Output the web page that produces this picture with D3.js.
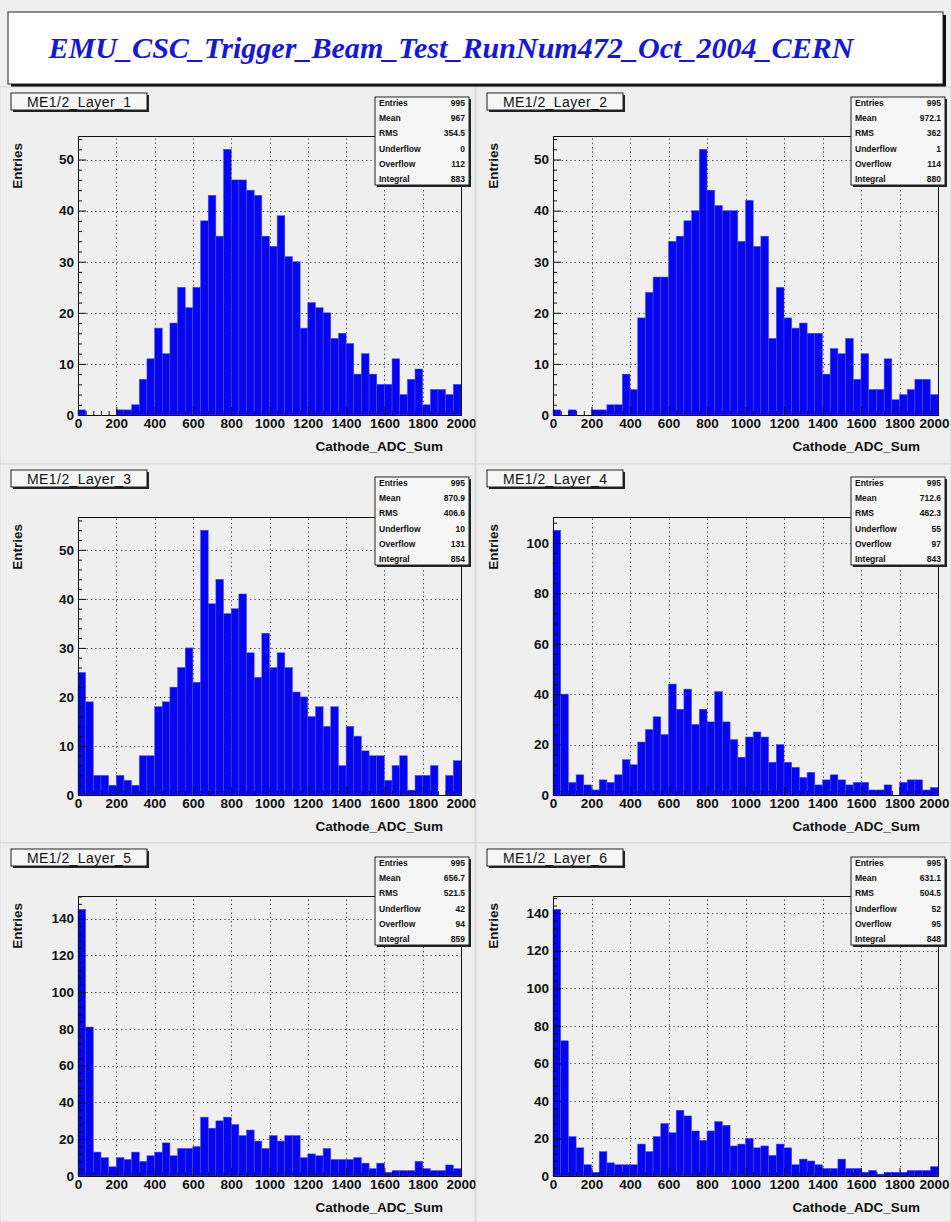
<!DOCTYPE html>
<html><head><meta charset="utf-8">
<script src="https://cdn.jsdelivr.net/npm/d3@7"></script>
<style>body{margin:0;background:#efefef;} svg{display:block;}</style>
</head><body>
<script>
// ---------- DATA ----------
const binEdges = [0,40,80,120,160,200,240,280,320,360,400,440,480,520,560,600,640,680,720,760,
  800,840,880,920,960,1000,1040,1080,1120,1160,1200,1240,1280,1320,1360,1400,1440,1480,1520,1560,
  1600,1640,1680,1720,1760,1800,1840,1880,1920,1960];
const binWidth = 40;
const layer1 = [1,0,0,0,0,1,1,2,7,11,17,12,18,25,21,25,38,43,35,52,46,46,44,43,35,33,39,31,30,17,22,21,20,15,16,14,8,12,8,6,6,11,4,7,9,2,5,5,4,6];
const layer2 = [1,0,1,0,0,1,1,2,2,8,5,19,24,27,27,34,35,38,40,52,44,41,40,40,34,42,33,35,15,25,19,17,18,16,16,8,13,12,15,7,12,5,5,11,3,4,5,7,7,4];
const layer3 = [25,19,4,4,2,4,3,2,8,8,18,19,22,26,30,23,54,39,44,37,38,41,29,24,33,26,29,26,21,20,16,18,14,18,6,14,12,9,8,8,3,6,8,1,4,4,6,0,4,7];
const layer4 = [105,40,5,8,4,2,6,5,8,14,12,21,26,31,24,44,34,42,28,34,29,41,29,22,15,23,25,23,13,20,13,11,7,9,4,6,8,6,4,5,5,2,2,4,0,5,6,6,2,3];
const layer5 = [145,81,13,10,5,10,9,13,8,11,13,18,11,15,15,16,32,26,30,32,28,22,25,19,15,22,19,22,22,10,12,11,15,9,9,9,10,7,4,7,2,3,3,3,8,4,3,3,6,4];
const layer6 = [142,72,21,15,6,2,13,7,6,6,6,17,13,21,28,23,35,32,24,19,24,29,27,16,17,20,15,16,11,17,15,6,9,8,6,4,4,9,4,4,2,3,1,2,2,2,3,3,3,5];
const panelNames = ["ME1/2_Layer_1","ME1/2_Layer_2","ME1/2_Layer_3","ME1/2_Layer_4","ME1/2_Layer_5","ME1/2_Layer_6"];
const statLabels = ["Entries","Mean","RMS","Underflow","Overflow","Integral"];
const stats1 = ["995","967","354.5","0","112","883"];
const stats2 = ["995","972.1","362","1","114","880"];
const stats3 = ["995","870.9","406.6","10","131","854"];
const stats4 = ["995","712.6","462.3","55","97","843"];
const stats5 = ["995","656.7","521.5","42","94","859"];
const stats6 = ["995","631.1","504.5","52","95","848"];
const xTicks = [0,200,400,600,800,1000,1200,1400,1600,1800,2000];
const yTicksA = [0,10,20,30,40,50];
const yTicksB = [0,20,40,60,80,100];
const yTicksC = [0,20,40,60,80,100,120,140];
const titleText = "EMU_CSC_Trigger_Beam_Test_RunNum472_Oct_2004_CERN";
const xTitle = "Cathode_ADC_Sum";
const yTitle = "Entries";

const series = [layer1,layer2,layer3,layer4,layer5,layer6];
const statsAll = [stats1,stats2,stats3,stats4,stats5,stats6];
const yTicksAll = [yTicksA,yTicksA,yTicksA,yTicksB,yTicksC,yTicksC];
const yMinorStep = [2,2,2,4,4,4];

// ---------- LAYOUT ----------
const W = 951, H = 1222;
const cols = [{x0:0,w:475,left:78,right:461},{x0:476,w:475,left:553,right:938}];
const rows = [{y0:87,h:377,top:136,bottom:415,statTop:97},
              {y0:464,h:379,top:517,bottom:795,statTop:477},
              {y0:843,h:379,top:896,bottom:1176,statTop:857}];
const FONT = "'Liberation Sans', Arial, Helvetica, sans-serif";

const svg = d3.select("body").append("svg").attr("width", W).attr("height", H);
svg.append("rect").attr("width", W).attr("height", H).attr("fill", "#efefef");

// Title box
svg.append("rect").attr("x", 11).attr("y", 15).attr("width", 935).attr("height", 72).attr("fill", "#111");
svg.append("rect").attr("x", 8).attr("y", 12).attr("width", 935).attr("height", 72)
  .attr("fill", "#fff").attr("stroke", "#222").attr("stroke-width", 1);
svg.append("text").attr("x", 451).attr("y", 58).attr("text-anchor", "middle")
  .attr("font-family", "'Liberation Serif', 'Times New Roman', serif")
  .attr("font-style", "italic").attr("font-weight", "bold").attr("font-size", 30)
  .attr("fill", "#1717d6").attr("textLength", 805).attr("lengthAdjust", "spacingAndGlyphs")
  .text(titleText);

series.forEach((vals, i) => {
  const c = cols[i % 2], r = rows[Math.floor(i / 2)];
  const g = svg.append("g");
  // pad
  g.append("rect").attr("x", c.x0).attr("y", r.y0).attr("width", c.w).attr("height", r.h)
    .attr("fill", "#efefef").attr("stroke", "#d6d6d6").attr("stroke-width", 1);

  const yMax = d3.max(vals) * 1.05;
  const x = d3.scaleLinear().domain([0, 2000]).range([c.left, c.right]);
  const y = d3.scaleLinear().domain([0, yMax]).range([r.bottom, r.top]);
  const yt = yTicksAll[i];

  // grid
  const grid = g.append("g").attr("stroke", "#444").attr("stroke-width", 1)
    .attr("stroke-dasharray", "1.3,3");
  grid.selectAll("line.v").data(xTicks.slice(1, -1)).join("line")
    .attr("x1", d => Math.round(x(d)) + 0.5).attr("x2", d => Math.round(x(d)) + 0.5)
    .attr("y1", r.bottom).attr("y2", r.top);
  grid.selectAll("line.h").data(yt.slice(1)).join("line")
    .attr("y1", d => Math.round(y(d)) + 0.5).attr("y2", d => Math.round(y(d)) + 0.5)
    .attr("x1", c.left).attr("x2", c.right);

  // bars
  g.append("g").selectAll("rect").data(vals.map((v, k) => ({e: binEdges[k], v}))).join("rect")
    .attr("x", d => x(d.e)).attr("width", d => x(d.e + binWidth) - x(d.e))
    .attr("y", d => y(d.v)).attr("height", d => r.bottom - y(d.v))
    .attr("fill", "#0505ee").attr("stroke", "#4d4dff").attr("stroke-width", 0.5);

  // frame
  g.append("rect").attr("x", c.left + 0.5).attr("y", r.top + 0.5)
    .attr("width", c.right - c.left).attr("height", r.bottom - r.top)
    .attr("fill", "none").attr("stroke", "#111").attr("stroke-width", 1);

  // x axis
  const xMinor = d3.range(0, 2001, 40).filter(v => !xTicks.includes(v));
  const xa = g.append("g").attr("transform", `translate(0,${r.bottom})`)
    .call(d3.axisBottom(x).tickValues(xTicks).tickFormat(d3.format("d"))
      .tickSizeInner(-8).tickSizeOuter(0).tickPadding(3));
  g.append("g").attr("transform", `translate(0,${r.bottom})`)
    .call(d3.axisBottom(x).tickValues(xMinor).tickFormat("").tickSizeInner(-4).tickSizeOuter(0))
    .call(s => s.select(".domain").remove());
  xa.select(".domain").remove();
  xa.selectAll("text").attr("font-family", FONT).attr("font-weight", "bold")
    .attr("font-size", 13.5).attr("fill", "#111");
  if (i % 2 === 1) {
    // keep the last label inside the page edge
    xa.selectAll("text").filter(d => d === 2000).attr("dx", -4);
  }

  // y axis
  const step = yMinorStep[i];
  const yMinor = d3.range(0, yMax, step).filter(v => !yt.includes(v));
  const ya = g.append("g").attr("transform", `translate(${c.left},0)`)
    .call(d3.axisLeft(y).tickValues(yt).tickFormat(d3.format("d"))
      .tickSizeInner(-8).tickSizeOuter(0).tickPadding(4));
  g.append("g").attr("transform", `translate(${c.left},0)`)
    .call(d3.axisLeft(y).tickValues(yMinor).tickFormat("").tickSizeInner(-4).tickSizeOuter(0))
    .call(s => s.select(".domain").remove());
  ya.select(".domain").remove();
  ya.selectAll("text").attr("font-family", FONT).attr("font-weight", "bold")
    .attr("font-size", 13.5).attr("fill", "#111");
  g.selectAll(".tick line").attr("stroke", "#111");

  // axis titles
  g.append("text").attr("x", c.right - 18).attr("y", r.bottom + 36).attr("text-anchor", "end")
    .attr("font-family", FONT).attr("font-weight", "bold").attr("font-size", 13.5).attr("fill", "#111")
    .text(xTitle);
  g.append("text").attr("transform", `translate(${c.x0 + 22},${r.top + 7}) rotate(-90)`)
    .attr("text-anchor", "end")
    .attr("font-family", FONT).attr("font-weight", "bold").attr("font-size", 13.5).attr("fill", "#111")
    .text(yTitle);

  // label box
  const lx = c.x0 + 11, ly = r.y0 + 6;
  g.append("rect").attr("x", lx + 2).attr("y", ly + 2).attr("width", 136).attr("height", 17).attr("fill", "#222");
  g.append("rect").attr("x", lx).attr("y", ly).attr("width", 136).attr("height", 17)
    .attr("fill", "#f6f6f6").attr("stroke", "#222").attr("stroke-width", 1);
  g.append("text").attr("x", lx + 68).attr("y", ly + 13.5).attr("text-anchor", "middle")
    .attr("font-family", FONT).attr("font-size", 14).attr("fill", "#111")
    .attr("textLength", 104).attr("lengthAdjust", "spacing")
    .text(panelNames[i]);

  // stats box
  const sx = c.x0 + 375, sy = r.statTop, sw = 94, sh = 88;
  g.append("rect").attr("x", sx + 2).attr("y", sy + 2).attr("width", sw).attr("height", sh).attr("fill", "#222");
  g.append("rect").attr("x", sx).attr("y", sy).attr("width", sw).attr("height", sh)
    .attr("fill", "#f6f6f6").attr("stroke", "#222").attr("stroke-width", 1);
  statLabels.forEach((lab, k) => {
    const ty = sy + 9 + k * 15.2;
    g.append("text").attr("x", sx + 4).attr("y", ty).attr("font-family", FONT)
      .attr("font-weight", "bold").attr("font-size", 8.5).attr("fill", "#111").text(lab);
    g.append("text").attr("x", sx + sw - 4).attr("y", ty).attr("text-anchor", "end").attr("font-family", FONT)
      .attr("font-weight", "bold").attr("font-size", 8.5).attr("fill", "#111").text(statsAll[i][k]);
  });
});
</script>
</body></html>
